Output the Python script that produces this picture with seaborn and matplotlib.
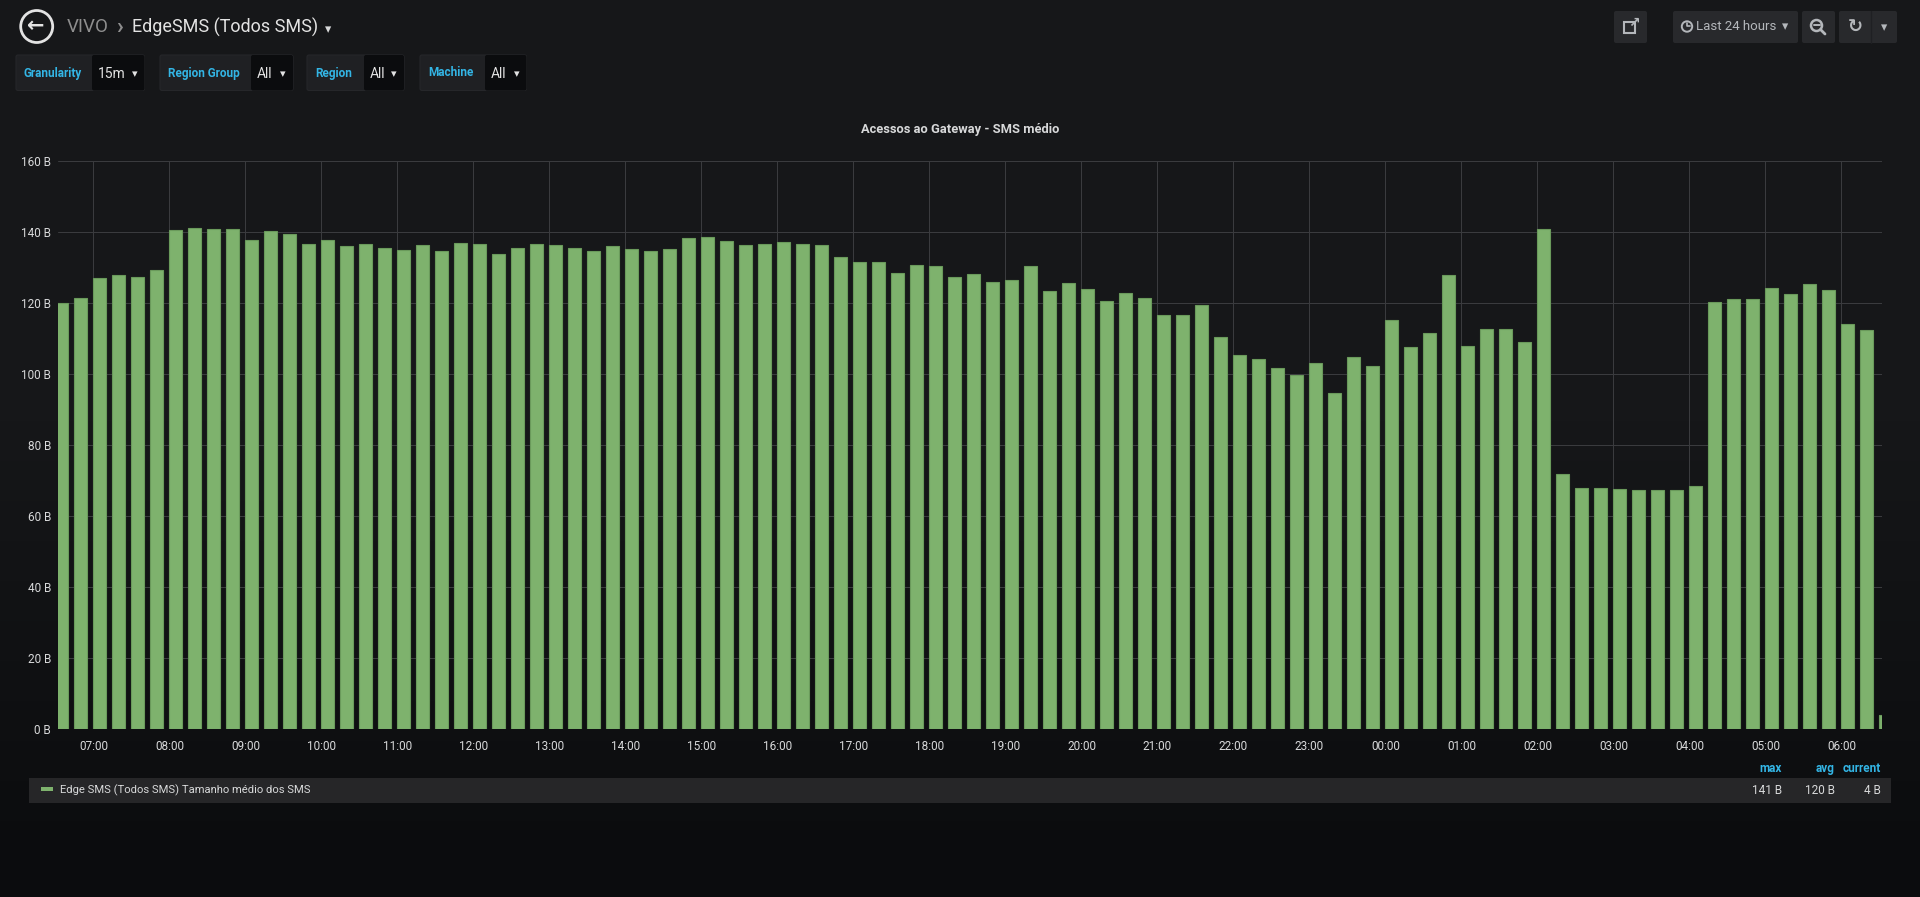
import numpy as np
import pandas as pd
import matplotlib
matplotlib.use("Agg")
import matplotlib.pyplot as plt
import matplotlib.dates as mdates
from matplotlib.patches import FancyBboxPatch, Circle, Rectangle
from matplotlib.lines import Line2D
import seaborn as sns

# ---- data (15m samples, last 24 hours) ----
times = pd.date_range("2018-06-01 06:30", "2018-06-02 06:30", freq="15min")
sms_size = [
    120.0, 121.6, 127.0, 127.9, 127.5, 129.5, 140.7, 141.1, 140.9, 140.8,
    137.7, 140.3, 139.4, 136.8, 137.7, 136.0, 136.6, 135.6, 135.1, 136.3,
    134.8, 136.9, 136.6, 133.8, 135.6, 136.8, 136.3, 135.7, 134.6, 136.1,
    135.2, 134.8, 135.4, 138.5, 138.6, 137.5, 136.3, 136.8, 137.4, 136.8,
    136.3, 133.1, 131.7, 131.6, 128.6, 130.7, 130.4, 127.5, 128.2, 125.9,
    126.7, 130.5, 123.4, 125.6, 124.0, 120.7, 123.0, 121.4, 116.6, 116.7,
    119.5, 110.5, 105.3, 104.3, 101.8, 99.8, 103.1, 94.8, 104.9, 102.2,
    115.3, 107.8, 111.7, 128.0, 108.1, 112.9, 112.7, 109.2, 140.8, 71.8,
    68.0, 68.0, 67.6, 67.3, 67.3, 67.4, 68.6, 120.4, 121.3, 121.3,
    124.2, 122.5, 125.4, 123.8, 114.2, 112.6, 4.0,
]
window_end = pd.Timestamp("2018-06-02 06:32")
window_start = window_end - pd.Timedelta(hours=24)
y_ticks = [0, 20, 40, 60, 80, 100, 120, 140, 160]

panel_title = "Acessos ao Gateway - SMS médio"
series_name = "Edge SMS (Todos SMS) Tamanho médio dos SMS"
stat_names = ["max", "avg", "current"]
stat_values = ["141 B", "120 B", "4 B"]
variables = [("Granularity", "15m"), ("Region Group", "All"),
             ("Region", "All"), ("Machine", "All")]

# ---- style ----
sns.set_theme(style="dark")
plt.rcParams["font.family"] = ["Roboto", "DejaVu Sans"]
TXT = "#d8d9da"
BLUE = "#33b5e5"
GREEN = "#7eb26d"

W, H = 1920, 897
fig = plt.figure(figsize=(W / 100, H / 100), dpi=100)

# full-page layer in pixel coordinates (y down)
ui = fig.add_axes([0, 0, 1, 1])
ui.set_xlim(0, W)
ui.set_ylim(H, 0)
ui.axis("off")

ys = np.arange(H)
t = np.clip((ys - 420) / (860 - 420), 0, 1)
top = np.array([22, 23, 25]) / 255
bot = np.array([11, 12, 14]) / 255
grad = top[None, :] * (1 - t[:, None]) + bot[None, :] * t[:, None]
ui.imshow(grad[:, None, :], extent=[0, W, H, 0], aspect="auto", zorder=0)


def box(x0, y0, x1, y1, color, r=2, ec="none"):
    ui.add_patch(FancyBboxPatch((x0, y0), x1 - x0, y1 - y0,
                                boxstyle=f"round,pad=0,rounding_size={r}",
                                fc=color, ec=ec, lw=0.8, zorder=1))


# header
ui.add_patch(Circle((36.7, 26.5), 16, fill=False, ec="#e3e3e3", lw=2, zorder=2))
ui.text(36.2, 26.5, "\u2190", fontsize=15, fontweight="bold", color="#e3e3e3",
        ha="center", va="center", family="DejaVu Sans", zorder=3)
ui.text(67, 27, "VIVO", fontsize=13.5, color="#8e8e8e", va="center")
ui.text(116, 27, "\u203a", fontsize=16, color="#8e8e8e", va="center",
        fontweight="bold")
ui.text(132, 27, "EdgeSMS (Todos SMS)", fontsize=13, color="#e3e3e3", va="center")
ui.text(328, 30, "\u25be", fontsize=9, color=TXT, va="center", ha="center",
        family="DejaVu Sans")

# template variables
var_pos = [(16, 92, 144.5), (160, 251, 293), (307, 364, 404), (420, 485, 526.5)]
for (lab, val), (x0, xm, x1) in zip(variables, var_pos):
    box(x0, 55, x1, 90.5, "#1f2023", r=2, ec="#26272a")
    box(xm, 55, x1, 90.5, "#0b0c0e", r=2)
    ui.text(x0 + 8, 73, lab, fontsize=8.5, fontweight="bold", color=BLUE, va="center")
    ui.text(xm + 6, 73.5, val, fontsize=10, color="#e3e3e3", va="center")
    ui.text(x1 - 10, 74, "\u25be", fontsize=8, color="#e3e3e3", va="center",
            ha="center", family="DejaVu Sans")

# top right buttons
BTN = "#28292c"
ICON = "#b4b7bb"
box(1614, 11, 1647, 43, BTN)
ui.add_patch(Rectangle((1624, 22), 11, 11, fill=False, ec=ICON, lw=1.5, zorder=2))
ui.text(1634, 23, "\u2197", fontsize=10, color=ICON, ha="center", va="center",
        family="DejaVu Sans", fontweight="bold", zorder=3)
box(1673, 11, 1798, 43, BTN)
ui.add_patch(Circle((1687, 26.5), 5.2, fill=False, ec=ICON, lw=1.4, zorder=2))
ui.add_line(Line2D([1687, 1687, 1690], [23, 26.5, 26.5], color=ICON, lw=1.2, zorder=3))
ui.text(1696, 27, "Last 24 hours", fontsize=9.5, color=ICON, va="center")
ui.text(1785, 27, "\u25be", fontsize=9, color=ICON, va="center", ha="center",
        family="DejaVu Sans")
box(1802, 11, 1835, 43, BTN)
ui.add_patch(Circle((1816.5, 25.5), 5.5, fill=False, ec=ICON, lw=1.8, zorder=2))
ui.add_line(Line2D([1813.5, 1819.5], [25.5, 25.5], color=ICON, lw=1.4, zorder=3))
ui.add_line(Line2D([1820.5, 1825], [29.5, 34], color=ICON, lw=2, zorder=3))
box(1839, 11, 1897, 43, BTN)
ui.add_line(Line2D([1870.5, 1870.5], [11, 43], color="#1f2023", lw=1, zorder=2))
ui.text(1855, 27, "\u21bb", fontsize=13, color=ICON, va="center", ha="center",
        family="DejaVu Sans", fontweight="bold")
ui.text(1884, 28, "\u25be", fontsize=9, color=ICON, va="center", ha="center",
        family="DejaVu Sans")

# panel title
ui.text(960, 130, panel_title, fontsize=9.3, fontweight="bold", color=TXT,
        ha="center", va="center")

# ---- graph ----
ax = fig.add_axes([58 / W, 1 - 729.3 / H, 1824 / W, 568 / H])
ax.set_facecolor("none")
bar_frac = 0.653
x_num = mdates.date2num(times) + bar_frac * (15 / 1440) / 2
sns.barplot(x=x_num, y=sms_size, native_scale=True, width=bar_frac,
            color=GREEN, saturation=1, edgecolor="#6a9a5b", linewidth=0.8,
            errorbar=None, ax=ax, zorder=2)

ax.set_xlim(mdates.date2num(window_start), mdates.date2num(window_end))
ax.set_ylim(0, 160)
ax.set_yticks(y_ticks)
ax.yaxis.set_major_formatter(lambda v, p: f"{v:.0f} B")
ax.xaxis.set_major_locator(mdates.HourLocator())
ax.xaxis.set_major_formatter(mdates.DateFormatter("%H:%M"))
ax.grid(True, color="#3a3b3e", linewidth=0.75)
ax.set_axisbelow(True)
for s in ax.spines.values():
    s.set_visible(False)
ax.tick_params(length=0, colors=TXT, labelsize=8.5)
ax.tick_params(axis="y", pad=5)
ax.tick_params(axis="x", pad=8)
ax.set_xlabel("")
ax.set_ylabel("")

# ---- legend table ----
box(29, 778, 1891, 803, "#262628", r=0)
ui.add_patch(Rectangle((40.7, 787.5), 12, 3.5, fc=GREEN, ec="none", zorder=2))
ui.text(60, 790, series_name, fontsize=8.1, color=TXT, va="center")
for name, val, xr in zip(stat_names, stat_values, [1782, 1835, 1881]):
    ui.text(xr, 768.5, name, fontsize=8.5, fontweight="bold", color=BLUE,
            ha="right", va="center")
    ui.text(xr, 790, val, fontsize=8.5, color=TXT, ha="right", va="center")

fig.savefig("out.png", dpi=100, facecolor="#161719")
